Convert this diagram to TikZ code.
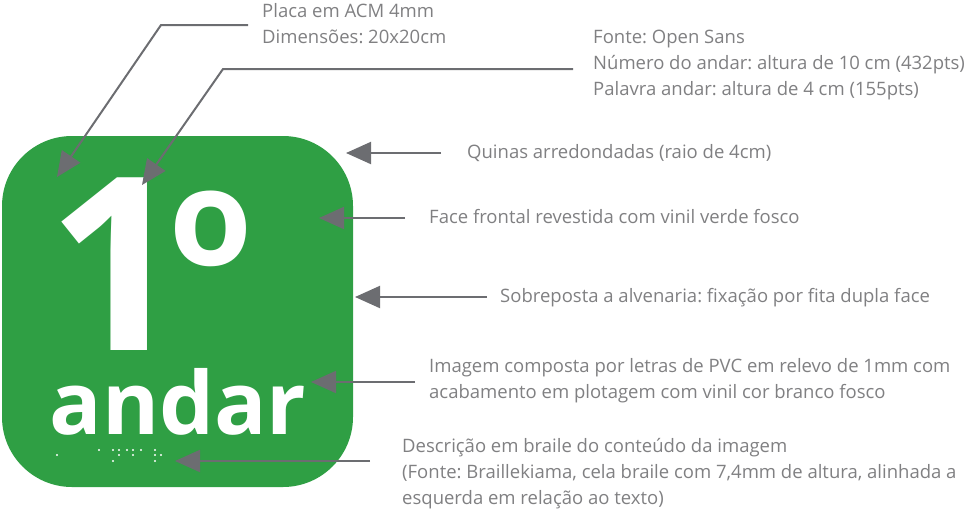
\documentclass[tikz,border=0pt]{standalone}
\usepackage{fontspec}
\setmainfont{Open Sans}
\usepackage{tikz}
\usetikzlibrary{arrows.meta,positioning}
\frenchspacing
\definecolor{plategreen}{RGB}{47,159,68}
\definecolor{arrowgray}{RGB}{108,109,113}
\definecolor{notegray}{RGB}{128,128,130}
\tikzstyle{plate}=[fill=plategreen,%
                   rounded corners=70pt,%
                   minimum width=351pt,%
                   minimum height=351pt,%
                   inner sep=0pt]
\tikzstyle{bigtext}=[anchor=base,text=white,inner sep=0pt]
\tikzstyle{note}=[anchor=base west,align=left,inner sep=0pt,text=notegray,font=\fontsize{18.5}{26}\selectfont]
\tikzstyle{pointer}=[draw=arrowgray,line width=2pt,-{Triangle[length=25pt,width=22pt]}]

\begin{document}
\begin{tikzpicture}[x=1pt,y=-1pt]
  \useasboundingbox (0,0) rectangle (968,512);
  % plate
  \node[plate] (plate) at (177.5,311.5) {};
  \node[bigtext,font=\fontsize{242}{242}\selectfont\bfseries] (num) at (117,350) {1};
  \node[bigtext,font=\fontsize{134}{134}\selectfont\bfseries] (ord) at (211,265) {o};
  \node[bigtext,font=\fontsize{87}{87}\selectfont\bfseries] (word) at (178,434) {andar};
  % braille cells
  \foreach \bx/\by in {57/455,99/450,113/450,113/461,119/450,119/455,127/450,133/450,133/455,141/450,155/450,155/455,155/461,161/455}
    \fill[white] (\bx,\by) circle (1.1pt);
  % notes (base = last line)
  \node[note] (placa) at (262,43) {Placa em ACM 4mm\\Dimensões: 20x20cm};
  \node[note] (fonte) at (593,95) {Fonte: Open Sans\\Número do andar: altura de 10 cm (432pts)\\Palavra andar: altura de 4 cm (155pts)};
  \node[note] (quinas) at (467,158) {Quinas arredondadas (raio de 4cm)};
  \node[note] (face) at (429,223) {Face frontal revestida com vinil verde fosco};
  \node[note] (sobre) at (500,302) {Sobreposta a alvenaria: fixação por fita dupla face};
  \node[note] (imagem) at (429,398) {Imagem composta por letras de PVC em relevo de 1mm com\\acabamento em plotagem com vinil cor branco fosco};
  \node[note] (braile) at (402,504) {Descrição em braile do conteúdo da imagem\\(Fonte: Braillekiama, cela braile com 7,4mm de altura, alinhada a\\esquerda em relação ao texto)};
  % arrow ends
  \coordinate (placaend) at (248,25);
  \coordinate (placabend) at (161,25);
  \coordinate (placatip) at (57,177);
  \coordinate (fonteend) at (573,69);
  \coordinate (fontebend) at (223,69);
  \coordinate (fontetip) at (142,185);
  \coordinate (quinasend) at (441,153);
  \coordinate (quinastip) at (346,153);
  \coordinate (faceend) at (405,218);
  \coordinate (facetip) at (319,218);
  \coordinate (sobreend) at (487,297);
  \coordinate (sobretip) at (355,297);
  \coordinate (imagemend) at (415,382);
  \coordinate (imagemtip) at (311,382);
  \coordinate (braileend) at (370,461);
  \coordinate (brailetip) at (175,461);
  \draw[pointer] (placaend) -- (placabend) -- (placatip);
  \draw[pointer] (fonteend) -- (fontebend) -- (fontetip);
  \draw[pointer] (quinasend) -- (quinastip);
  \draw[pointer] (faceend) -- (facetip);
  \draw[pointer] (sobreend) -- (sobretip);
  \draw[pointer] (imagemend) -- (imagemtip);
  \draw[pointer] (braileend) -- (brailetip);
\end{tikzpicture}
\end{document}
